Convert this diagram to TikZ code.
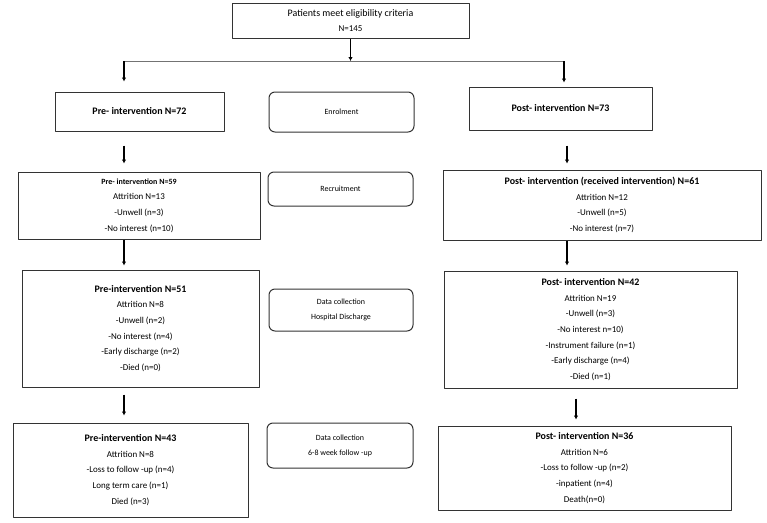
\documentclass[tikz,border=0pt]{standalone}
\usepackage{fontspec}
\setmainfont{Carlito}
\usetikzlibrary{arrows.meta}

\newcommand{\hd}[1]{{\fontsize{10}{15.7}\selectfont\bfseries #1}}

\begin{document}
\begin{tikzpicture}[>={Latex[length=4bp,width=4.5bp]},line join=bevel,
  box/.style={draw=black!80,line width=1bp,inner sep=0pt,align=center,font=\fontsize{9}{15.7}\selectfont},
  stage/.style={box,rounded corners=6bp,font=\fontsize{8}{15}\selectfont},
  arr/.style={black,line width=1.8bp,->},
  branch/.style={black!55,line width=0.9bp}]
\useasboundingbox (0bp,0bp) rectangle (767bp,-523bp);
%%
\node (node_top) at (350.5bp,-20.5bp) [box,minimum width=237bp,minimum height=35bp] {\fontsize{10}{17}\selectfont Patients meet eligibility criteria\\N=145};
  \node (node_pre72) at (139.5bp,-111.5bp) [box,minimum width=169bp,minimum height=39bp] {\hd{Pre- intervention N=72}};
  \node (node_enrol) at (341.5bp,-112bp) [stage,minimum width=145bp,minimum height=40bp] {Enrolment};
  \node (node_post73) at (560.5bp,-108.5bp) [box,minimum width=183bp,minimum height=43bp] {\hd{Post- intervention N=73}};
  \node (node_pre59) at (139bp,-205.5bp) [box,minimum width=242bp,minimum height=67bp] {{\fontsize{8}{15.7}\selectfont\bfseries Pre- intervention N=59}\\Attrition N=13\\-Unwell (n=3)\\-No interest (n=10)};
  \node (node_recruit) at (340.5bp,-189bp) [stage,minimum width=145bp,minimum height=34bp] {Recruitment};
  \node (node_post61) at (602bp,-205bp) [box,minimum width=318bp,minimum height=70bp] {\hd{Post- intervention (received intervention) N=61}\\Attrition N=12\\-Unwell (n=5)\\-No interest (n=7)};
  \node (node_pre51) at (140.5bp,-328.5bp) [box,minimum width=237bp,minimum height=117bp] {\hd{Pre-intervention N=51}\\Attrition N=8\\-Unwell (n=2)\\-No interest (n=4)\\-Early discharge (n=2)\\-Died (n=0)};
  \node (node_discharge) at (341bp,-310bp) [stage,minimum width=144bp,minimum height=42bp] {Data collection\\Hospital Discharge};
  \node (node_post42) at (590.5bp,-329.5bp) [box,minimum width=293bp,minimum height=117bp] {\hd{Post- intervention N=42}\\Attrition N=19\\-Unwell (n=3)\\-No interest n=10)\\-Instrument failure (n=1)\\-Early discharge (n=4)\\-Died (n=1)};
  \node (node_pre43) at (130.5bp,-470bp) [box,minimum width=235bp,minimum height=94bp] {\hd{Pre-intervention N=43}\\Attrition N=8\\-Loss to follow -up (n=4)\\Long term care (n=1)\\Died (n=3)};
  \node (node_followup) at (340bp,-445.5bp) [stage,minimum width=146bp,minimum height=45bp] {Data collection\\6-8 week follow -up};
  \node (node_post36) at (584.5bp,-468bp) [box,minimum width=293bp,minimum height=84bp] {\hd{Post- intervention N=36}\\Attrition N=6\\-Loss to follow -up (n=2)\\-inpatient (n=4)\\Death(n=0)};
%
  \coordinate (branch_l) at (124bp,-61bp);
  \coordinate (branch_r) at (564bp,-61bp);
  \coordinate (col_l) at (124bp,0bp);
  \coordinate (col_r) at (567bp,0bp);
  \coordinate (col_r2) at (576bp,0bp);
  \draw [arr] (node_top.south) -- (node_top.south |- branch_l);
  \draw [branch] (branch_l) -- (branch_r);
  \draw [arr,shorten >=10bp] (branch_l) -- (node_pre72.north -| branch_l);
  \draw [arr,shorten >=4bp] (branch_r) -- (node_post73.north -| branch_r);
  \draw [arr,shorten <=14bp,shorten >=8bp] (node_pre72.south -| col_l) -- (node_pre59.north -| col_l);
  \draw [arr,shorten >=4bp] (node_pre59.south -| col_l) -- (node_pre51.north -| col_l);
  \draw [arr,shorten <=7bp,shorten >=7bp] (node_pre51.south -| col_l) -- (node_pre43.north -| col_l);
  \draw [arr,shorten <=15bp,shorten >=6bp] (node_post73.south -| col_r) -- (node_post61.north -| col_r);
  \draw [arr,shorten >=5bp] (node_post61.south -| col_r) -- (node_post42.north -| col_r);
  \draw [arr,shorten <=10bp,shorten >=6bp] (node_post42.south -| col_r2) -- (node_post36.north -| col_r2);
%
\end{tikzpicture}
\end{document}
